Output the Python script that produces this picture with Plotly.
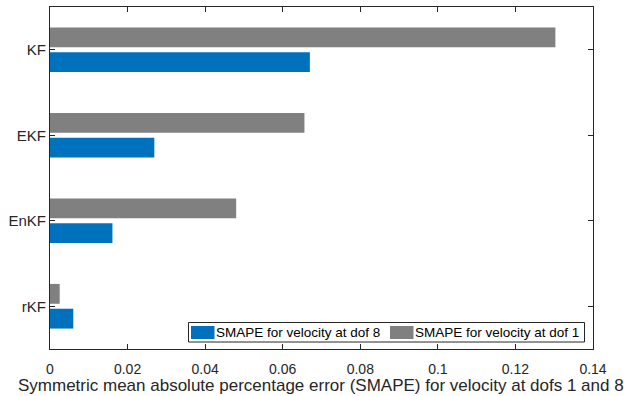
import plotly.graph_objects as go

# Filters compared (bottom to top on the y axis)
filters = ["rKF", "EnKF", "EKF", "KF"]

# SMAPE of the velocity estimate at each degree of freedom
smape_dof8 = [0.0060, 0.0161, 0.0269, 0.0670]
smape_dof1 = [0.0025, 0.0480, 0.0656, 0.1303]

x_ticks = [0, 0.02, 0.04, 0.06, 0.08, 0.1, 0.12, 0.14]

series_names = ["SMAPE for velocity at dof 8", "SMAPE for velocity at dof 1"]
x_title = "Symmetric mean absolute percentage error (SMAPE) for velocity at dofs 1 and 8"

BLUE = "#0072BD"
GRAY = "#808080"
AXIS = "#262626"
FONT = "Liberation Sans, Arial, Helvetica, sans-serif"

W, H = 624, 396
M_L, M_R, M_T, M_B = 50, 31, 7, 47
PW, PH = W - M_L - M_R, H - M_T - M_B


def px_x(px):
    """Pixel column -> paper x."""
    return (px - M_L) / PW


def px_y(py):
    """Pixel row -> paper y."""
    return (H - M_B - py) / PH


fig = go.Figure()
fig.add_trace(go.Bar(
    y=filters, x=smape_dof8, orientation="h", name=series_names[0],
    marker=dict(color=BLUE, line=dict(width=0)),
))
fig.add_trace(go.Bar(
    y=filters, x=smape_dof1, orientation="h", name=series_names[1],
    marker=dict(color=GRAY, line=dict(width=0)),
))

# Boxed legend in the lower right, entries laid out side by side
shapes = [dict(
    type="rect", xref="paper", yref="paper",
    x0=px_x(188.5), x1=px_x(584.5), y0=px_y(342), y1=px_y(322.5),
    line=dict(color=AXIS, width=1), fillcolor="white", layer="above",
)]
annotations = []
for name, color, sx in zip(series_names, [BLUE, GRAY], [191, 390]):
    shapes.append(dict(
        type="rect", xref="paper", yref="paper",
        x0=px_x(sx), x1=px_x(sx + 23.5), y0=px_y(339), y1=px_y(326),
        line=dict(width=0), fillcolor=color, layer="above",
    ))
    annotations.append(dict(
        text=name, xref="paper", yref="paper",
        x=px_x(sx + 24), y=px_y(332.5), xanchor="left", yanchor="middle",
        showarrow=False, borderpad=0,
        font=dict(size=13.5, color="black", family=FONT),
    ))

# x-axis title, centred under the plot area
annotations.append(dict(
    text=x_title, xref="paper", yref="paper",
    x=px_x(320.5), y=px_y(396), xanchor="center", yanchor="bottom",
    showarrow=False, borderpad=0,
    font=dict(size=17, color=AXIS, family=FONT),
))

fig.update_layout(
    width=W, height=H,
    margin=dict(l=M_L, r=M_R, t=M_T, b=M_B, autoexpand=False),
    paper_bgcolor="white", plot_bgcolor="white",
    barmode="group", bargap=0.42, bargroupgap=0.2,
    font=dict(family=FONT, color=AXIS, size=14),
    showlegend=False,
    shapes=shapes, annotations=annotations,
)

fig.update_xaxes(
    range=[0, 0.14], tickvals=x_ticks,
    showline=True, linecolor=AXIS, linewidth=1, mirror="ticks",
    ticks="inside", ticklen=5, tickcolor=AXIS, tickwidth=1,
    ticklabelstandoff=7,
    showgrid=False, zeroline=False, automargin=False,
    tickfont=dict(size=14, color=AXIS),
)
fig.update_yaxes(
    type="category", categoryorder="array", categoryarray=filters,
    range=[-0.5, 3.5],
    showline=True, linecolor=AXIS, linewidth=1, mirror="ticks",
    ticks="inside", ticklen=5, tickcolor=AXIS, tickwidth=1,
    showgrid=False, zeroline=False, automargin=False,
    tickfont=dict(size=15, color=AXIS),
)

fig.write_html("out.html")
